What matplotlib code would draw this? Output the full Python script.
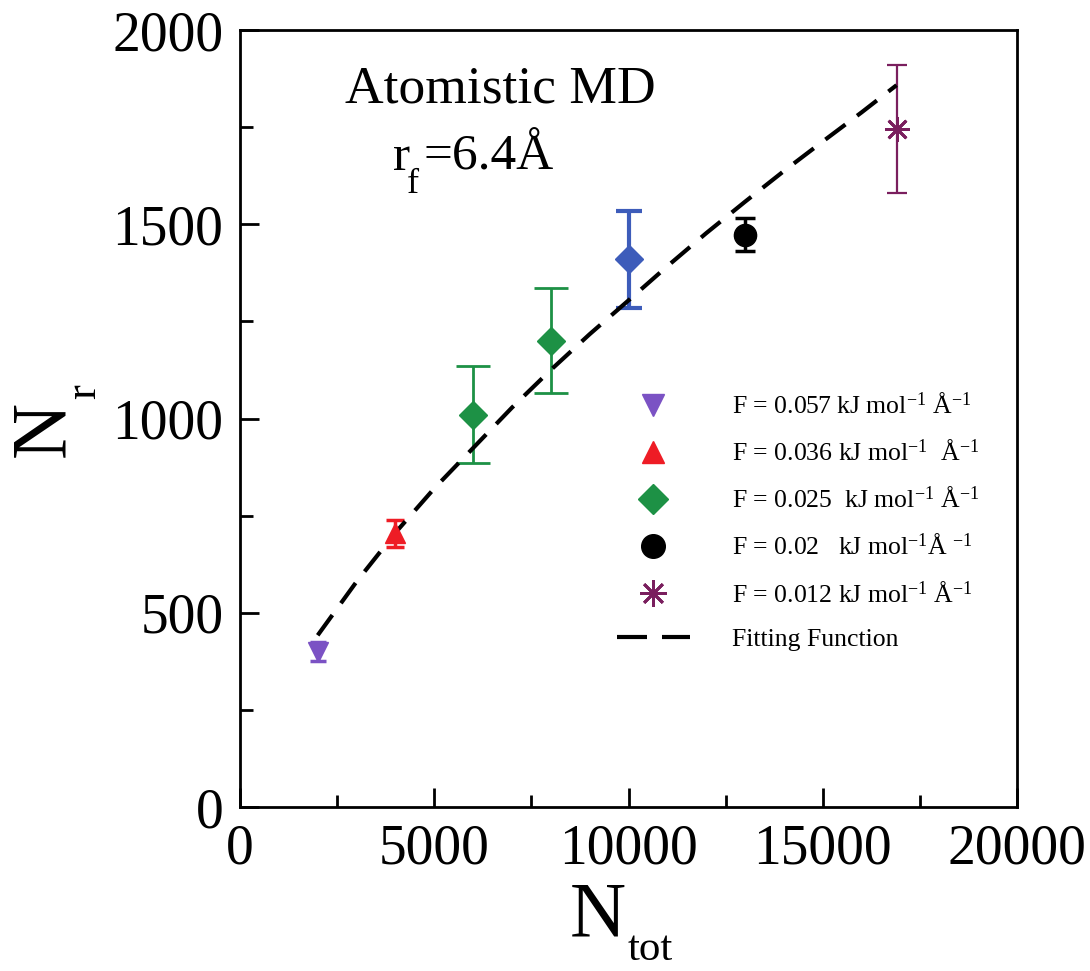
import numpy as np
import matplotlib
matplotlib.use('Agg')
import matplotlib.pyplot as plt
from matplotlib.ticker import MultipleLocator

plt.rcParams['font.family'] = ['Liberation Serif', 'DejaVu Serif']
plt.rcParams['mathtext.fontset'] = 'custom'
plt.rcParams['mathtext.rm'] = 'Liberation Serif'
plt.rcParams['mathtext.it'] = 'Liberation Serif:italic'

# data points
n_tot = [2000, 4000, 6000, 8000, 10000, 13000, 16900]
n_r = [400, 705, 1010, 1200, 1410, 1473, 1745]
n_r_err = [25, 35, 125, 135, 125, 42, 165]

point_colors = ['#7b52c4', '#ee1c25', '#1d9145', '#1d9145', '#3d5cba', '#000000', '#7a1f5e']
point_markers = ['v', '^', 'D', 'D', 'D', 'o', (8, 2, 0)]
marker_sizes = [15, 15, 14.5, 14.5, 14.5, 16, 18]
cap_sizes = [5.5, 6.5, 12.5, 12.5, 9.5, 7, 7]
err_widths = [2.5, 2.5, 2.0, 2.0, 3.0, 2.5, 1.6]

legend_labels = [
    'F = 0.057 kJ mol$\\mathregular{^{-1}}$ Å$\\mathregular{^{-1}}$',
    'F = 0.036 kJ mol$\\mathregular{^{-1}}$  Å$\\mathregular{^{-1}}$',
    'F = 0.025  kJ mol$\\mathregular{^{-1}}$ Å$\\mathregular{^{-1}}$',
    'F = 0.02   kJ mol$\\mathregular{^{-1}}$Å $\\mathregular{^{-1}}$',
    'F = 0.012 kJ mol$\\mathregular{^{-1}}$ Å$\\mathregular{^{-1}}$',
]
legend_index = [0, 1, 2, 5, 6]

# fitting function, points
fit_x = [2000, 3000, 4000, 5000, 6000, 7000, 8000, 9000, 10000, 11000,
         12000, 13000, 14000, 15000, 16000, 16900]
fit_y = [442, 580, 706, 820, 924, 1028, 1125, 1217, 1304, 1392,
         1477, 1558, 1637, 1713, 1788, 1858]

fig = plt.figure(figsize=(10.9, 9.71), dpi=100)
ax = fig.add_axes([240 / 1090, 1 - 807 / 971, 777 / 1090, 777 / 971])

ax.plot(fit_x, fit_y, color='black', lw=3, dashes=(6, 3.5), zorder=4)

for i in range(len(n_tot)):
    ax.errorbar(n_tot[i], n_r[i], yerr=n_r_err[i], fmt='none',
                ecolor=point_colors[i], elinewidth=err_widths[i],
                capsize=cap_sizes[i], capthick=err_widths[i], zorder=3)
    ax.plot(n_tot[i], n_r[i], linestyle='none', marker=point_markers[i],
            ms=marker_sizes[i], color=point_colors[i],
            mec=point_colors[i], mew=2 if i == 6 else 1, zorder=5)

# legend handles (markers only)
handles = []
for lab, i in zip(legend_labels, legend_index):
    h, = ax.plot([], [], linestyle='none', marker=point_markers[i],
                 ms=marker_sizes[i] + 1, color=point_colors[i],
                 mec=point_colors[i], mew=2 if i == 6 else 1)
    handles.append((h, lab))
hf, = ax.plot([], [], color='black', lw=3, dashes=(7.2, 3.6))
handles.append((hf, 'Fitting Function'))

ax.legend([h for h, _ in handles], [l for _, l in handles],
          loc='upper left', bbox_to_anchor=(0.485, 0.533), frameon=False,
          fontsize=18.5, borderpad=0, borderaxespad=0, handlelength=2.85,
          handletextpad=1.65, labelspacing=0.83)

ax.text(0.335, 0.907, 'Atomistic MD', transform=ax.transAxes,
        ha='center', va='baseline', fontsize=38.5)
ax.text(0.197, 0.820, 'r', transform=ax.transAxes,
        ha='left', va='baseline', fontsize=37)
ax.text(0.215, 0.790, 'f', transform=ax.transAxes,
        ha='left', va='baseline', fontsize=26)
ax.text(0.236, 0.820, '=6.4Å', transform=ax.transAxes,
        ha='left', va='baseline', fontsize=37)

ax.set_xlim(0, 20000)
ax.set_ylim(0, 2000)
ax.xaxis.set_major_locator(MultipleLocator(5000))
ax.xaxis.set_minor_locator(MultipleLocator(2500))
ax.yaxis.set_major_locator(MultipleLocator(500))
ax.yaxis.set_minor_locator(MultipleLocator(250))
ax.tick_params(which='both', direction='in', top=False, right=False,
               width=2, labelsize=40)
ax.tick_params(which='major', length=14, pad=12)
ax.tick_params(which='minor', length=9)
for s in ax.spines.values():
    s.set_linewidth(2)

# axis titles: big N with a dropped subscript
fig.text(598 / 1090, 1 - 935 / 971, 'N', ha='center', va='baseline', fontsize=56)
fig.text(628 / 1090, 1 - 969 / 971, 'tot', ha='left', va='bottom', fontsize=31)
fig.text(44 / 1090, 1 - 429 / 971, 'N', ha='center', va='center',
         rotation=90, fontsize=56)
fig.text(84 / 1090, 1 - 392 / 971, 'r', ha='center', va='center',
         rotation=90, fontsize=32)

fig.savefig('out.png', dpi=100)
